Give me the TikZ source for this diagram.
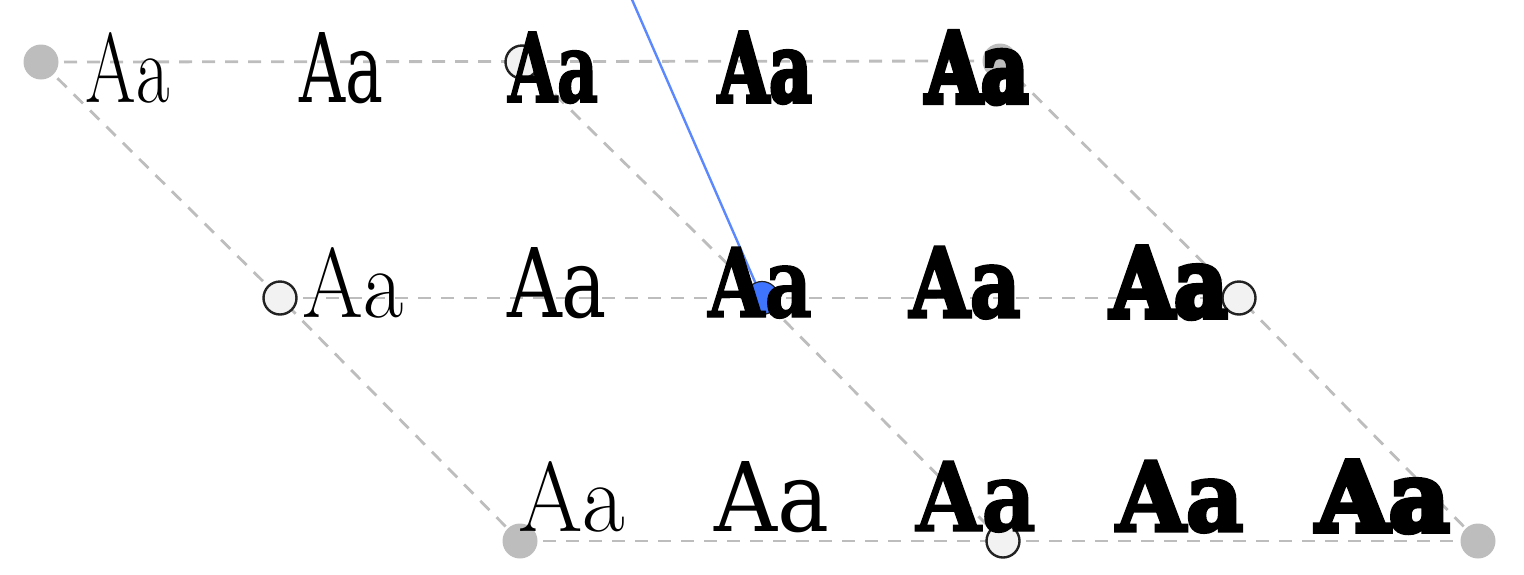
\documentclass[tikz,border=0pt]{standalone}
\usepackage{fontspec}
\usepackage{graphicx}
\setmainfont{Latin Modern Roman}
\newfontfamily\wA{Latin Modern Roman}
\newfontfamily\wB{DejaVu Serif}
\newfontfamily\wC{DejaVu Serif}[FakeBold=1.5]
\newfontfamily\wD{DejaVu Serif}[FakeBold=3.5]
\newfontfamily\wE{DejaVu Serif}[FakeBold=6]
\newfontfamily\wBc{DejaVu Serif Condensed}
\newfontfamily\wCc{DejaVu Serif Condensed}[FakeBold=2]
\newfontfamily\wDc{DejaVu Serif Condensed}[FakeBold=4]
\newfontfamily\wEc{DejaVu Serif Condensed}[FakeBold=6.5]
\newcommand{\sample}[2]{\resizebox{#2pt}{70pt}{\fontsize{96}{96}\selectfont#1Aa}}
\definecolor{gridgray}{HTML}{BDBDBD}
\definecolor{openfill}{HTML}{F2F2F2}
\definecolor{openline}{HTML}{222222}
\definecolor{bluefill}{HTML}{3F74FF}
\definecolor{blueline}{HTML}{5C88FF}
\tikzset{
  gridline/.style={draw=gridgray, line width=2.8pt, dash pattern=on 13pt off 10pt},
  solidpt/.style={circle, fill=gridgray, inner sep=0pt, minimum size=35pt},
  openpt/.style={circle, fill=openfill, draw=openline, line width=2.4pt, inner sep=0pt, minimum size=33pt},
  bluept/.style={circle, fill=bluefill, draw=openline, line width=1.2pt, inner sep=0pt, minimum size=33pt},
  blueaxis/.style={draw=blueline, line width=2.4pt},
  glyph/.style={inner sep=0pt, outer sep=0pt, anchor=base},
}
\begin{document}
\begin{tikzpicture}[x=1pt, y=-1pt]
\useasboundingbox (0,0) rectangle (1524,574);
% grid points
\coordinate (P11) at (41,62);
\coordinate (P12) at (522,62);
\coordinate (P13) at (1000,61);
\coordinate (P21) at (280,298);
\coordinate (P22) at (762,298);
\coordinate (P23) at (1239,298);
\coordinate (P31) at (520,541);
\coordinate (P32) at (1003,541);
\coordinate (P33) at (1478,541);
\coordinate (top) at (630,-5);
% dashed grid
\draw[gridline] (P11) -- (P13);
\draw[gridline] (P21) -- (P23);
\draw[gridline] (P31) -- (P33);
\draw[gridline] (P11) -- (P21) -- (P31);
\draw[gridline] (P12) -- (P22) -- (P32);
\draw[gridline] (P13) -- (P23) -- (P33);
% blue axis
\draw[blueaxis] (P22) -- (top);
% points
\node[solidpt] (c11) at (P11) {};
\node[openpt]  (c12) at (P12) {};
\node[solidpt] (c13) at (P13) {};
\node[openpt]  (c21) at (P21) {};
\node[bluept]  (c22) at (P22) {};
\node[openpt]  (c23) at (P23) {};
\node[solidpt] (c31) at (P31) {};
\node[openpt]  (c32) at (P32) {};
\node[solidpt] (c33) at (P33) {};
% top row (condensed)
\node[glyph] (t1) at (128,102) {\sample{\wA}{84}};
\node[glyph] (t2) at (341,102) {\sample{\wBc}{84}};
\node[glyph] (t3) at (553,102) {\sample{\wCc\bfseries}{90}};
\node[glyph] (t4) at (765,102) {\sample{\wDc\bfseries}{94}};
\node[glyph] (t5) at (977,102) {\sample{\wEc\bfseries}{102}};
% middle row
\node[glyph] (m1) at (353,317) {\sample{\wA}{101}};
\node[glyph] (m2) at (557,317) {\sample{\wB}{100}};
\node[glyph] (m3) at (760,317) {\sample{\wC\bfseries}{104}};
\node[glyph] (m4) at (965,317) {\sample{\wD\bfseries}{111}};
\node[glyph] (m5) at (1169,317) {\sample{\wE\bfseries}{117}};
% bottom row
\node[glyph] (b1) at (572,531) {\sample{\wA}{107}};
\node[glyph] (b2) at (772,531) {\sample{\wB}{115}};
\node[glyph] (b3) at (976,531) {\sample{\wC\bfseries}{120}};
\node[glyph] (b4) at (1180,531) {\sample{\wD\bfseries}{127}};
\node[glyph] (b5) at (1383,531) {\sample{\wE\bfseries}{133}};
\end{tikzpicture}
\end{document}
